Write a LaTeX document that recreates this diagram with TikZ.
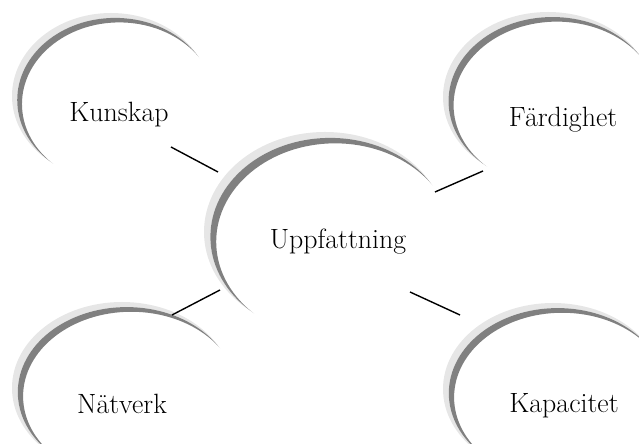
\documentclass[tikz,border=0pt]{standalone}
\usepackage{tikz}
\definecolor{swooshlight}{RGB}{230,230,230}
\definecolor{swooshdark}{RGB}{128,128,128}

\begin{document}
\begin{tikzpicture}[x=1bp,y=1bp,
        word/.style={font=\fontsize{28}{33}\selectfont,anchor=base,inner sep=0pt},
        link/.style={line width=1.4bp}]
        \pgfmathsetmacro\ca{cos(79)}
        \pgfmathsetmacro\ta{0.075}
        \pgfmathsetmacro\tb{0.145}
        \pgfmathsetmacro\da{(2*\ta-\ta^2)/(2*(\ca+1-\ta))}
        \pgfmathsetmacro\ra{1-\ta+\da}
        \pgfmathsetmacro\db{(2*\tb-\tb^2)/(2*(\ca+1-\tb))}
        \pgfmathsetmacro\rb{1-\tb+\db}
        \useasboundingbox (0,0) rectangle (639,444);
        \clip (0,0) rectangle (639,444);
        % swooshes: centre x / centre y / x radius / y radius
        \foreach \cx/\cy/\rx/\ry in {111/348/99/83, 548/347/105/85, 325/212/121/100, 122/56/110/86, 553/55/110/86}{
            \begin{scope}[shift={(\cx,\cy)},xscale=\rx,yscale=\ry,even odd rule]
                \begin{scope}
                    \clip (-2,-2) rectangle (2,2) (-49:\da) circle (\ra);
                    \fill[swooshlight] (0,0) circle (1);
                \end{scope}
                \begin{scope}
                    \clip (-2,-2) rectangle (2,2) (-49:\db) circle (\rb);
                    \fill[swooshdark] (-49:\da) circle (\ra);
                \end{scope}
            \end{scope}
        }
        \coordinate (K1) at (171,297);
        \coordinate (U1) at (218,272);
        \coordinate (F1) at (483,273);
        \coordinate (U2) at (435,252);
        \coordinate (N1) at (172,129);
        \coordinate (U3) at (220,154);
        \coordinate (C1) at (460,129);
        \coordinate (U4) at (410,152);
        \node[word] (K) at (119,322) {Kunskap};
        \node[word] (F) at (563,317) {Färdighet};
        \node[word] (U) at (338,195) {Uppfattning};
        \node[word] (N) at (122,30) {Nätverk};
        \node[word] (C) at (564,31) {Kapacitet};
        \draw[link] (K1) -- (U1);
        \draw[link] (U2) -- (F1);
        \draw[link] (N1) -- (U3);
        \draw[link] (U4) -- (C1);
\end{tikzpicture}
\end{document}
